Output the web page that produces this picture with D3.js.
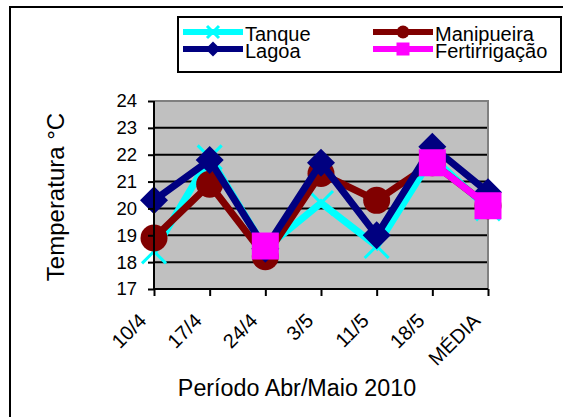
<!DOCTYPE html>
<html>
<head>
<meta charset="utf-8">
<script src="https://cdn.jsdelivr.net/npm/d3@7"></script>
<style>
  html, body { margin: 0; padding: 0; background: #fff; }
  svg { display: block; font-family: "Liberation Sans", Arial, sans-serif; }
</style>
</head>
<body>
<svg id="chart" width="563" height="417"></svg>
<script>
// Categories (sampling dates) and mean temperature series (°C)
const categories = ["10/4", "17/4", "24/4", "3/5", "11/5", "18/5", "MÉDIA"];
const tanque = [18.4, 21.9, 18.5, 20.2, 18.6, 21.9, 20.0];
const manipueira = [18.9, 20.9, 18.2, 21.3, 20.3, 21.7, 20.1];
const lagoa = [20.3, 21.8, 18.5, 21.7, 19.0, 22.3, 20.6];
const fertirrigacao = [null, null, 18.6, null, null, 21.7, 20.1];
const yTicks = [17, 18, 19, 20, 21, 22, 23, 24];

const seriesNames = ["Tanque", "Manipueira", "Lagoa", "Fertirrigação"];
const seriesValues = [tanque, manipueira, lagoa, fertirrigacao];
const seriesColors = ["#00ffff", "#800000", "#000080", "#ff00ff"];
const seriesMarkers = ["x", "circle", "diamond", "square"];

const svg = d3.select("#chart");

// Outer chart frame
svg.append("rect")
  .attr("x", 10).attr("y", 7).attr("width", 600).attr("height", 500)
  .attr("fill", "#fff").attr("stroke", "#000").attr("stroke-width", 2);

const plot = { left: 154, right: 488, top: 101, bottom: 289 };

const x = d3.scalePoint().domain(categories).range([plot.left, plot.right]).padding(0);
const y = d3.scaleLinear().domain([17, 24]).range([plot.bottom, plot.top]);

// Plot area background
svg.append("rect")
  .attr("x", plot.left).attr("y", plot.top)
  .attr("width", plot.right - plot.left).attr("height", plot.bottom - plot.top)
  .attr("fill", "#c0c0c0");

// Horizontal gridlines
svg.append("g").selectAll("line")
  .data(yTicks.filter(t => t > 17 && t < 24))
  .join("line")
  .attr("x1", plot.left).attr("x2", plot.right)
  .attr("y1", d => y(d)).attr("y2", d => y(d))
  .attr("stroke", "#000").attr("stroke-width", 2);

// Plot border (top and right, grey)
svg.append("path")
  .attr("d", `M${plot.left},${plot.top}H${plot.right}V${plot.bottom}`)
  .attr("fill", "none").attr("stroke", "#808080").attr("stroke-width", 2);

// Marker shapes
function drawMarker(g, type, size, color) {
  if (type === "circle") {
    g.append("circle").attr("r", size / 2).attr("fill", color);
  } else if (type === "square") {
    g.append("rect").attr("x", -size / 2).attr("y", -size / 2)
      .attr("width", size).attr("height", size).attr("fill", color);
  } else if (type === "diamond") {
    const h = size / 2;
    g.append("path").attr("d", `M0,${-h}L${h},0L0,${h}L${-h},0Z`).attr("fill", color);
  } else if (type === "x") {
    const h = size / 2;
    g.append("path").attr("d", `M${-h},${-h}L${h},${h}M${-h},${h}L${h},${-h}`)
      .attr("stroke", color).attr("stroke-width", 3).attr("fill", "none");
  }
}
const markerSize = { x: 24, circle: 27, diamond: 28, square: 27 };

const line = d3.line()
  .defined(d => d.v != null)
  .x(d => x(d.c))
  .y(d => y(d.v));

const seriesG = svg.append("g");
seriesValues.forEach((vals, i) => {
  const pts = categories.map((c, j) => ({ c, v: vals[j] }));
  const g = seriesG.append("g");
  g.append("path")
    .datum(pts)
    .attr("d", line)
    .attr("fill", "none")
    .attr("stroke", seriesColors[i])
    .attr("stroke-width", 7)
    .attr("stroke-linejoin", "miter");
  pts.filter(p => p.v != null).forEach(p => {
    const mg = g.append("g").attr("transform", `translate(${x(p.c)},${y(p.v)})`);
    drawMarker(mg, seriesMarkers[i], markerSize[seriesMarkers[i]], seriesColors[i]);
  });
});

// Y axis
const yAxis = svg.append("g")
  .attr("transform", `translate(${plot.left},0)`)
  .call(d3.axisLeft(y).tickValues(yTicks).tickSize(6).tickPadding(11).tickFormat(d3.format("d")));
yAxis.select(".domain").attr("stroke", "#000").attr("stroke-width", 2)
  .attr("d", `M0,${plot.top}V${plot.bottom}`);
yAxis.selectAll(".tick line").attr("stroke", "#000").attr("stroke-width", 2);
yAxis.selectAll(".tick text")
  .attr("font-size", 18.5).attr("fill", "#000")
  .attr("font-family", "Liberation Sans, Arial, sans-serif");

// X axis
const xAxis = svg.append("g")
  .attr("transform", `translate(0,${plot.bottom})`)
  .call(d3.axisBottom(x).tickSize(7).tickPadding(0));
xAxis.select(".domain").attr("stroke", "#000").attr("stroke-width", 2)
  .attr("d", `M${plot.left},0H${plot.right}`);
xAxis.selectAll(".tick line").attr("stroke", "#000").attr("stroke-width", 2);
xAxis.selectAll(".tick text")
  .attr("font-size", 20).attr("fill", "#000")
  .attr("font-family", "Liberation Sans, Arial, sans-serif")
  .attr("text-anchor", "end")
  .attr("dy", null)
  .attr("y", 0)
  .attr("transform", "translate(-7,33) rotate(-45)");

// Axis titles
svg.append("text")
  .attr("transform", "translate(64,197) rotate(-90)")
  .attr("text-anchor", "middle")
  .attr("font-size", 24)
  .text("Temperatura °C");

svg.append("text")
  .attr("x", 297).attr("y", 396)
  .attr("text-anchor", "middle")
  .attr("font-size", 23.3)
  .text("Período Abr/Maio 2010");

// Legend
const legend = svg.append("g");
legend.append("rect")
  .attr("x", 178).attr("y", 17).attr("width", 383).attr("height", 55)
  .attr("fill", "#fff").attr("stroke", "#000").attr("stroke-width", 2);

const legendPos = [
  { x: 183, y: 32 },  // Tanque
  { x: 373, y: 32 },  // Manipueira
  { x: 183, y: 49 },  // Lagoa
  { x: 373, y: 49 }   // Fertirrigação
];
const legendMarkerSize = { x: 12, circle: 13, diamond: 15, square: 13 };
seriesNames.forEach((name, i) => {
  const p = legendPos[i];
  const g = legend.append("g").attr("transform", `translate(${p.x},${p.y})`);
  g.append("line").attr("x1", 0).attr("x2", 60).attr("y1", 0).attr("y2", 0)
    .attr("stroke", seriesColors[i]).attr("stroke-width", 6);
  const mg = g.append("g").attr("transform", "translate(30,0)");
  drawMarker(mg, seriesMarkers[i], legendMarkerSize[seriesMarkers[i]], seriesColors[i]);
  g.append("text")
    .attr("x", 62).attr("y", 8.5)
    .attr("font-size", 20)
    .text(name);
});
</script>
</body>
</html>
